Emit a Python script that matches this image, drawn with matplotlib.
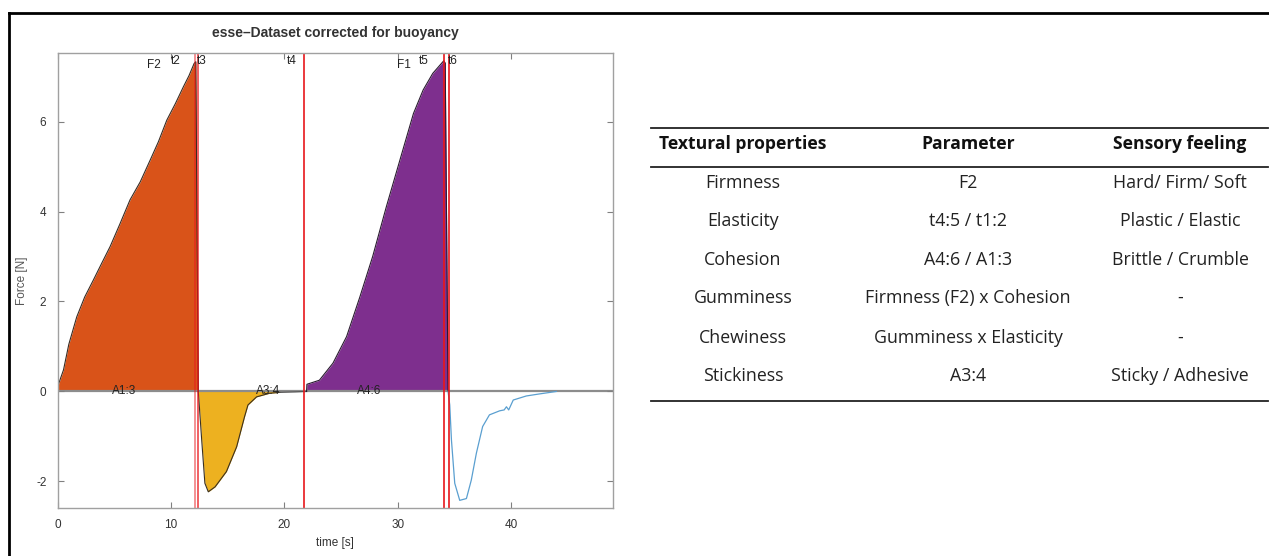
import numpy as np
import matplotlib.pyplot as plt
from matplotlib.lines import Line2D

plt.rcParams['axes.unicode_minus'] = False
plt.rcParams['font.family'] = ['Liberation Sans', 'DejaVu Sans']

# compression phase 1 (A1:3), orange
t_a13 = [0.0, 0.53, 1.0, 1.7, 2.4, 3.17, 3.9, 4.64, 5.5, 6.4, 7.3, 8.17, 8.9, 9.64, 10.4, 11.1, 11.6, 12.05, 12.2, 12.42]
f_a13 = [0.10, 0.48, 1.05, 1.66, 2.10, 2.48, 2.85, 3.22, 3.72, 4.26, 4.66, 5.14, 5.55, 6.03, 6.40, 6.77, 7.02, 7.29, 7.33, 0.0]

# adhesion (A3:4), yellow
t_a34 = [12.42, 12.72, 13.0, 13.3, 13.9, 14.9, 15.8, 16.5, 16.8, 17.56, 18.7, 19.6]
f_a34 = [0.0, -1.08, -2.04, -2.23, -2.12, -1.78, -1.23, -0.56, -0.30, -0.12, -0.04, -0.02]

# flat part before second bite
t_flat = [19.6, 21.0, 21.97]
f_flat = [-0.02, -0.01, 0.0]

# compression phase 2 (A4:6), purple
t_a46 = [21.97, 22.0, 23.1, 24.3, 25.5, 26.67, 27.8, 29.0, 30.2, 31.4, 32.25, 33.1, 34.07, 34.2, 34.45]
f_a46 = [0.0, 0.16, 0.25, 0.63, 1.22, 2.10, 3.00, 4.10, 5.14, 6.18, 6.70, 7.07, 7.35, 7.30, 0.0]

# second withdrawal, blue line
t_tail = [34.45, 34.6, 34.75, 35.04, 35.48, 36.07, 36.5, 36.95, 37.5, 38.1, 39.0,
          39.4, 39.6, 39.8, 40.2, 41.35, 42.5, 44.0]
f_tail = [0.0, -0.3, -1.08, -2.04, -2.42, -2.38, -1.97, -1.37, -0.78, -0.52, -0.43,
          -0.41, -0.34, -0.41, -0.19, -0.10, -0.055, 0.0]

# marker times
t_marks = [12.16, 12.4, 21.7, 34.1, 34.5]
mark_alpha = [0.55, 0.8, 1.0, 1.0, 1.0]

# point labels: (text, t, F)
point_labels = [("F2", 8.5, 7.12), ("t2", 10.4, 7.22), ("t3", 12.75, 7.22),
                ("t4", 20.7, 7.22), ("F1", 30.6, 7.12), ("t5", 32.3, 7.22),
                ("t6", 34.85, 7.22)]
area_labels = [("A1:3", 5.9), ("A3:4", 18.6), ("A4:6", 27.5)]

# table
tbl_header = ["Textural properties", "Parameter", "Sensory feeling"]
tbl_props = ["Firmness", "Elasticity", "Cohesion", "Gumminess", "Chewiness", "Stickiness"]
tbl_params = ["F2", "t4:5 / t1:2", "A4:6 / A1:3", "Firmness (F2) x Cohesion",
              "Gumminess x Elasticity", "A3:4"]
tbl_feel = ["Hard/ Firm/ Soft", "Plastic / Elastic", "Brittle / Crumble", "-", "-",
            "Sticky / Adhesive"]

W, H = 1269, 556
fig = plt.figure(figsize=(W / 100, H / 100), dpi=100)
ax = fig.add_axes([57.5 / W, 1 - 508 / H, (613 - 57.5) / W, (508 - 52.7) / H])

ax.fill_between(t_a13, f_a13, 0, color="#d95319", lw=0)
ax.plot(t_a13, f_a13, color="#3a2a20", lw=0.8)
ax.fill_between(t_a34, f_a34, 0, color="#edb120", lw=0)
ax.plot(t_a34, f_a34, color="#3a3020", lw=0.8)
ax.plot(t_flat, f_flat, color="#505050", lw=0.8)
ax.fill_between(t_a46, f_a46, 0, color="#7e2f8e", lw=0)
ax.plot(t_a46, f_a46, color="#2a1a30", lw=0.8)
ax.plot(t_tail, f_tail, color="#5a9fd0", lw=0.9)

ax.axhline(0, color="#8c8c8c", lw=1.6, zorder=1)
for tm, a in zip(t_marks, mark_alpha):
    ax.axvline(tm, color="#e8161b", lw=1.2, alpha=a)

for txt, tx, fy in point_labels:
    ax.text(tx, fy, txt, fontsize=8.5, ha="center", va="bottom", color="#222222")
for txt, tx in area_labels:
    ax.text(tx, 0, txt, fontsize=8.5, ha="center", va="center", color="#222222")

ax.set_xlim(0, 49)
ax.set_ylim(-2.59, 7.53)
ax.set_xticks([0, 10, 20, 30, 40])
ax.set_yticks([-2, 0, 2, 4, 6])
ax.tick_params(direction="in", length=4, width=0.8, colors="#808080",
               labelcolor="#333333", labelsize=8.5, top=True, right=True, pad=8)
for s in ax.spines.values():
    s.set_color("#a0a0a0")
    s.set_linewidth(1.0)
ax.set_xlabel("time [s]", fontsize=8.5, color="#333333", labelpad=4)
ax.set_ylabel("Force [N]", fontsize=8.5, color="#555555", labelpad=6)
ax.set_title("esse\u2013Dataset corrected for buoyancy", fontsize=10,
             fontweight="bold", color="#333333", pad=11)

# outer frame (top and left edges visible)
fig.add_artist(Line2D([9 / W, 1], [1 - 13 / H, 1 - 13 / H], color="black", lw=2))
fig.add_artist(Line2D([9 / W, 9 / W], [0, 1 - 13 / H], color="black", lw=2))

# table on the right
col_x = [743, 968, 1180]
rule_x0, rule_x1 = 651 / W, 1268 / W
for yy in [128, 167, 401]:
    fig.add_artist(Line2D([rule_x0, rule_x1], [1 - yy / H, 1 - yy / H],
                          color="#222222", lw=1.3))
tfont = ["Open Sans", "DejaVu Sans"]
for cx, h in zip(col_x, tbl_header):
    fig.text(cx / W, 1 - 144 / H, h, ha="center", va="center", fontsize=12.6,
             fontweight="bold", family=tfont, color="#111111")
row_y = [183, 221, 260, 298, 338, 376]
for ry, p, q, r in zip(row_y, tbl_props, tbl_params, tbl_feel):
    for cx, txt in zip(col_x, [p, q, r]):
        fig.text(cx / W, 1 - ry / H, txt, ha="center", va="center", fontsize=12.8,
                 family=tfont, color="#222222")

fig.savefig("out.png", dpi=100)
